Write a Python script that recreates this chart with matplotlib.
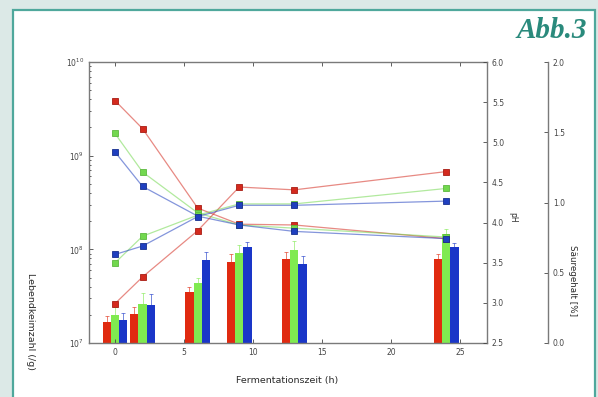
import matplotlib

matplotlib.use("Agg")
import matplotlib.pyplot as plt
import numpy as np
from matplotlib.patches import Rectangle

# Sampling times (h)
times = [0, 2, 6, 9, 13, 24]

# Lebendkeimzahl (bars, log axis)
cfu_red = [1.66e7, 2.04e7, 3.47e7, 7.41e7, 7.94e7, 7.94e7]
cfu_green = [2.0e7, 2.63e7, 4.37e7, 9.1e7, 9.8e7, 1.45e8]
cfu_blue = [1.78e7, 2.57e7, 7.76e7, 1.05e8, 6.9e7, 1.05e8]
err_red = [0.3e7, 0.4e7, 0.5e7, 1.6e7, 1.5e7, 1.0e7]
err_green = [0.4e7, 0.8e7, 0.6e7, 2.0e7, 2.5e7, 2.0e7]
err_blue = [0.3e7, 0.8e7, 1.5e7, 1.5e7, 1.5e7, 1.2e7]

# pH (falling lines)
ph_red = [5.52, 5.17, 4.18, 3.98, 3.97, 3.80]
ph_green = [5.11, 4.63, 4.12, 3.97, 3.93, 3.82]
ph_blue = [4.88, 4.45, 4.08, 3.97, 3.89, 3.80]

# Saeuregehalt in % (rising lines)
acid_red = [0.28, 0.47, 0.80, 1.11, 1.09, 1.22]
acid_green = [0.57, 0.76, 0.91, 0.99, 0.99, 1.10]
acid_blue = [0.63, 0.69, 0.90, 0.98, 0.98, 1.01]

bar_cols = ["#e02a10", "#80ea50", "#1a36c8"]
line_cols = ["#d42a1e", "#72d84e", "#1f3fbf"]
edge_cols = ["#a81d14", "#5cb83e", "#17308f"]
spine_col = "#7a7a7a"
tick_col = "#444444"

fig = plt.figure(figsize=(5.98, 3.97), dpi=100)
fig.patch.set_facecolor("#dce9e7")

# white panel with teal frame
panel = Rectangle((13 / 598, -0.05), (595 - 13) / 598, 1.05 - 10 / 397,
                  transform=fig.transFigure, facecolor="white",
                  edgecolor="#4fa89c", linewidth=1.6, zorder=-10)
fig.patches.append(panel)

fig.text(0.982, 1 - 31 / 397, "Abb.3", ha="right", va="center",
         fontsize=21, style="italic", weight="bold",
         family="Liberation Serif", color="#2a8a7c")

ax = fig.add_axes([89 / 598, 1 - 343 / 397, (487 - 89) / 598, (343 - 62) / 397])
ax.set_facecolor("none")
ax.set_yscale("log")
ax.set_ylim(1e7, 1e10)
ax.set_xlim(-1.88, 26.96)

t = np.array(times, dtype=float)
w = 0.6
for off, vals, errs, c in zip([-w, 0, w], [cfu_red, cfu_green, cfu_blue],
                              [err_red, err_green, err_blue], bar_cols):
    vals = np.array(vals)
    ax.bar(t + off, vals - 1e7, bottom=1e7, width=w, color=c, linewidth=0)
    ax.errorbar(t + off, vals, yerr=[np.zeros(len(vals)), errs], fmt="none",
                ecolor=c, elinewidth=0.6, capsize=1.2, capthick=0.6, alpha=0.7)

ax.set_xticks([0, 5, 10, 15, 20, 25])
ax.tick_params(which="both", direction="in", top=True, right=False,
               labelsize=5.5, colors=tick_col, length=3, width=0.6)
ax.tick_params(which="minor", length=1.5)
for s in ["left", "top", "bottom"]:
    ax.spines[s].set_color(spine_col)
    ax.spines[s].set_linewidth(1.0)
ax.spines["right"].set_visible(False)

# pH axis
ax_ph = ax.twinx()
ax_ph.set_ylim(2.5, 6.0)
ax_ph.set_yticks(np.arange(2.5, 6.01, 0.5))
ax_ph.yaxis.set_major_formatter(matplotlib.ticker.FormatStrFormatter("%.1f"))
ax_ph.tick_params(direction="in", labelsize=5.5, colors=tick_col, length=3, width=0.6)
for s in ["left", "top", "bottom"]:
    ax_ph.spines[s].set_visible(False)
ax_ph.spines["right"].set_color(spine_col)
ax_ph.spines["right"].set_linewidth(1.0)
for vals, c, ec in zip([ph_red, ph_green, ph_blue], line_cols, edge_cols):
    ax_ph.plot(times, vals, color=c, lw=0.9, alpha=0.55)
    ax_ph.plot(times, vals, "s", color=c, ms=4.8, mec=ec, mew=0.6)

# acid axis
ax_ac = ax.twinx()
ax_ac.set_ylim(0, 2.0)
ax_ac.set_yticks(np.arange(0, 2.01, 0.5))
ax_ac.yaxis.set_major_formatter(matplotlib.ticker.FormatStrFormatter("%.1f"))
ax_ac.spines["right"].set_position(("axes", (548 - 89) / (487 - 89)))
for s in ["left", "top", "bottom"]:
    ax_ac.spines[s].set_visible(False)
ax_ac.spines["right"].set_color(spine_col)
ax_ac.spines["right"].set_linewidth(1.0)
ax_ac.tick_params(direction="in", labelsize=5.5, colors=tick_col, length=3, width=0.6)
for vals, c, ec in zip([acid_red, acid_green, acid_blue], line_cols, edge_cols):
    ax_ac.plot(times, vals, color=c, lw=0.9, alpha=0.55)
    ax_ac.plot(times, vals, "s", color=c, ms=4.8, mec=ec, mew=0.6)

fig.text(287 / 598, 1 - 381 / 397, "Fermentationszeit (h)", ha="center",
         va="center", fontsize=6.8, color="#2a2a2a")
fig.text(30 / 598, 1 - 273 / 397, "Lebendkeimzahl (/g)", ha="center",
         va="top", rotation=270, fontsize=6.8, color="#2a2a2a")
fig.text(513 / 598, 1 - 217 / 397, "pH", ha="center", va="center",
         rotation=270, fontsize=5.5, color="#2a2a2a")
fig.text(573 / 598, 1 - 281 / 397, "Säuregehalt [%]", ha="center",
         va="center", rotation=270, fontsize=6.3, color="#2a2a2a")

fig.savefig("out.png", dpi=100, facecolor=fig.get_facecolor())
